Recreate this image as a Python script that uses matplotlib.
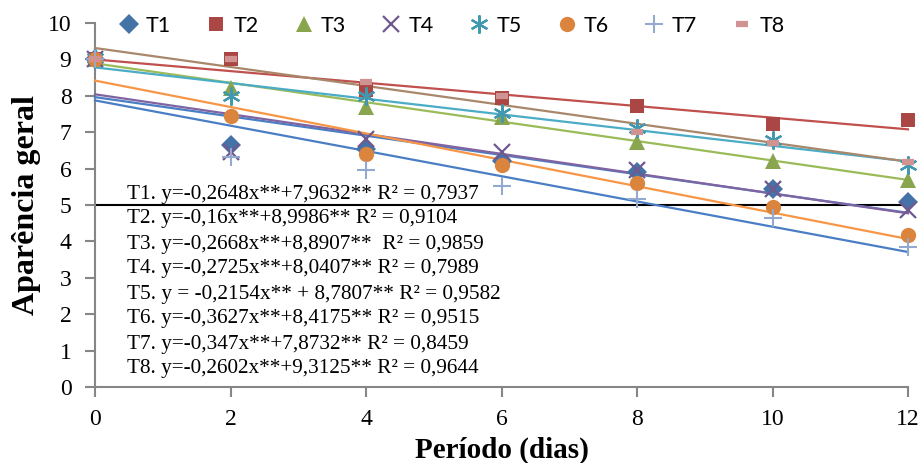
import matplotlib
matplotlib.use("Agg")
import matplotlib.pyplot as plt
import numpy as np

days = [0, 2, 4, 6, 8, 10, 12]
labels = ["T1", "T2", "T3", "T4", "T5", "T6", "T7", "T8"]
T1 = [9.0, 6.65, 6.55, 6.2, 5.9, 5.45, 5.08]
T2 = [9.0, 9.0, 8.15, 7.95, 7.72, 7.22, 7.33]
T3 = [9.0, 8.22, 7.68, 7.42, 6.72, 6.22, 5.68]
T4 = [9.0, 6.45, 6.8, 6.45, 5.95, 5.45, 4.85]
T5 = [9.05, 8.0, 8.0, 7.52, 7.12, 6.78, 6.1]
T6 = [9.0, 7.44, 6.4, 6.1, 5.6, 4.95, 4.18]
T7 = [9.0, 6.33, 5.95, 5.52, 5.17, 4.65, 3.85]
T8 = [9.0, 9.0, 8.38, 8.0, 7.0, 6.7, 6.18]
series = [T1, T2, T3, T4, T5, T6, T7, T8]

slopes = [-0.2648, -0.16, -0.2668, -0.2725, -0.2154, -0.3627, -0.347, -0.2602]
intercepts = [7.9632, 8.9986, 8.8907, 8.0407, 8.7807, 8.4175, 7.8732, 9.3125]
equations = [
    "T1. y=-0,2648x**+7,9632** R² = 0,7937",
    "T2. y=-0,16x**+8,9986** R² = 0,9104",
    "T3. y=-0,2668x**+8,8907**  R² = 0,9859",
    "T4. y=-0,2725x**+8,0407** R² = 0,7989",
    "T5. y = -0,2154x** + 8,7807** R² = 0,9582",
    "T6. y=-0,3627x**+8,4175** R² = 0,9515",
    "T7. y=-0,347x**+7,8732** R² = 0,8459",
    "T8. y=-0,2602x**+9,3125** R² = 0,9644",
]

marker_colors = ["#4572A7", "#AA4643", "#89A54E", "#71588F", "#4198AF", "#DB843D", "#93A9CF", "#D19392"]
line_colors = ["#4A7EC4", "#C0504D", "#9BBB59", "#8064A2", "#4BACC6", "#F79646", "#4A7EC4", "#A8876A"]

serif = ["Liberation Serif", "DejaVu Serif"]

fig = plt.figure(figsize=(9.23, 4.63), dpi=100)
ax = fig.add_axes([95/923, 1-387/463, 813/923, 364/463])
ax.set_xlim(0, 12)
ax.set_ylim(0, 10)

xs = np.array([0, 12])
for k in range(8):
    ax.plot(xs, slopes[k]*xs + intercepts[k], color=line_colors[k], lw=1.6, zorder=3, clip_on=False)

ax.plot([0, 12], [5, 5], color="black", lw=1.5, zorder=2)

styles = [
    dict(marker="D", ms=10, mew=0),
    dict(marker="s", ms=10.5, mew=0),
    dict(marker="^", ms=11, mew=0),
    dict(marker="x", ms=11, mew=1.6),
    dict(marker=(6, 2, 0), ms=13, mew=1.6),
    dict(marker="o", ms=11, mew=0),
    dict(marker="+", ms=13, mew=1.5),
    dict(marker="_", ms=8.5, mew=4.5),
]
handles = []
for k in range(8):
    h, = ax.plot(days, series[k], linestyle="none", color=marker_colors[k],
                 label=labels[k], zorder=4, clip_on=False, **styles[k])
    handles.append(h)

for sp in ["top", "right"]:
    ax.spines[sp].set_visible(False)
for sp in ["left", "bottom"]:
    ax.spines[sp].set_color("#868686")
    ax.spines[sp].set_linewidth(1.5)
ax.set_xticks(days)
ax.set_yticks(range(0, 11))
ax.tick_params(axis="both", direction="out", length=7, width=1.5, color="#868686",
               labelsize=17)
ax.tick_params(axis="y", pad=10)
ax.tick_params(axis="x", pad=9)
for t in ax.get_xticklabels() + ax.get_yticklabels():
    t.set_fontfamily(serif)

ax.set_xlabel("Período (dias)", fontsize=21, fontweight="bold", family=serif, labelpad=5)
ax.set_ylabel("Aparência geral", fontsize=23, fontweight="bold", family=serif, labelpad=5)

for k, eq in enumerate(equations):
    y_px = 194 + 25*k
    fig.text(127/923, 1 - y_px/463, eq, fontsize=15.3, family=serif, va="center", ha="left")

leg = fig.legend(handles=handles, loc="center", bbox_to_anchor=(451/923, 1-26/463), ncol=8,
                 frameon=False, handlelength=1.0, handletextpad=0.3,
                 columnspacing=1.6, prop={"family": ["Lato", "DejaVu Sans"], "size": 15.5})

fig.savefig("out.png", dpi=100)
